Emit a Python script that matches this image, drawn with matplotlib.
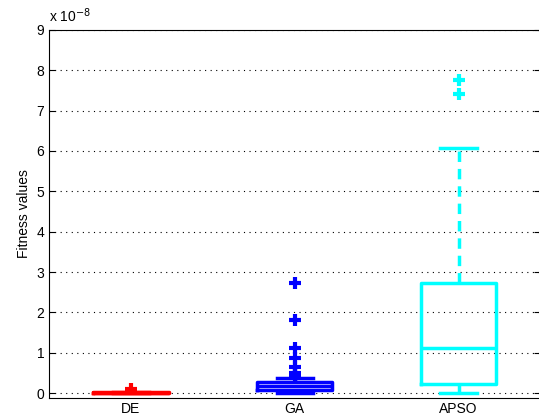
import matplotlib.pyplot as plt

plt.rcParams['font.family'] = ['Liberation Sans', 'DejaVu Sans']

# Data (in units of 1e-8)
labels = ['DE', 'GA', 'APSO']
colors = ['#ff0000', '#0000ff', '#00ffff']
q1 = [0.0, 0.07, 0.23]
med = [0.01, 0.17, 1.12]
q3 = [0.02, 0.27, 2.73]
whislo = [0.0, 0.0, 0.0]
whishi = [0.03, 0.38, 6.07]
fliers = [
    [0.1],
    [0.44, 0.5, 0.64, 0.88, 1.12, 1.81, 2.72],
    [7.41, 7.76],
]

stats = []
for i in range(len(labels)):
    stats.append({'label': labels[i], 'q1': q1[i], 'med': med[i], 'q3': q3[i],
                  'whislo': whislo[i], 'whishi': whishi[i], 'fliers': fliers[i]})

fig = plt.figure(figsize=(5.39, 4.18), dpi=100)
# right spine lies just outside the image, as in the reference
ax = fig.add_axes([0.0909, 0.0486, 0.9117, 0.88])

for i, s in enumerate(stats):
    c = colors[i]
    ax.bxp([s], positions=[i + 1], widths=0.46, showfliers=True,
           boxprops=dict(color=c, lw=2.5),
           medianprops=dict(color=c, lw=2.5),
           whiskerprops=dict(color=c, lw=2.5, ls=(0, (3, 2))),
           capprops=dict(color=c, lw=2.5),
           flierprops=dict(marker='+', markeredgecolor=c, markersize=9, markeredgewidth=3),
           capwidths=0.22)

ax.set_xlim(0.5, 3.5)
ax.set_ylim(-0.11, 9)
ax.set_yticks(range(0, 10))
ax.set_xticks([1, 2, 3])
ax.set_xticklabels(labels)
ax.yaxis.grid(True, linestyle=(0, (1, 4)), color='k', lw=0.8)
ax.set_axisbelow(True)
ax.tick_params(direction='in', labelsize=10, right=True, top=False, length=4)
ax.tick_params(axis='x', length=0, pad=3)
ax.set_ylabel('Fitness values', fontsize=10)
ax.text(0, 1.012, r'x 10$^{-8}$', transform=ax.transAxes, fontsize=10, va='bottom')

fig.savefig('out.png', dpi=100)
